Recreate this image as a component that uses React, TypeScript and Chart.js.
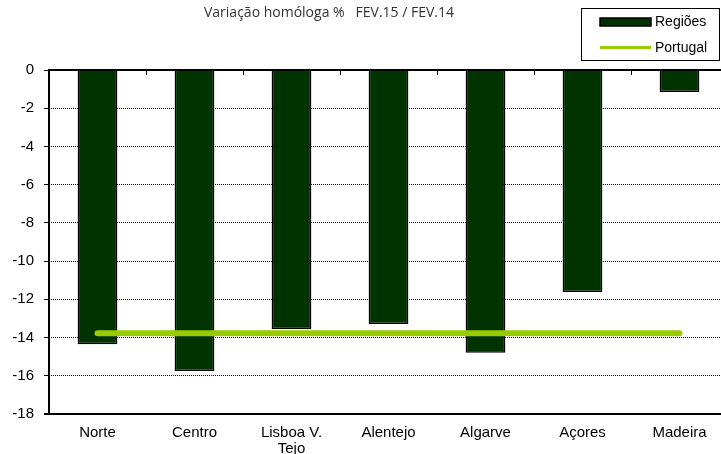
import React, { useEffect, useRef } from "react";
import { Chart, registerables } from "chart.js";

Chart.register(...registerables);

const categories: (string | string[])[] = ["Norte", "Centro", ["Lisboa V.", "Tejo"], "Alentejo", "Algarve", "Açores", "Madeira"];
const regioes = [-14.35, -15.75, -13.57, -13.29, -14.79, -11.62, -1.15];
const portugal = [-13.78, -13.78, -13.78, -13.78, -13.78, -13.78, -13.78];
const yTicks = { min: -18, max: 0, step: 2 };
const titleText = "Variação homóloga %   FEV.15 / FEV.14";
const legendLabels = ["Regiões", "Portugal"];

const BAR = "#003300";
const LIME = "#99cc00";
const FONT = "'Liberation Sans', Arial, sans-serif";

const decor = {
  id: "decor",
  afterDraw(chart: any) {
    const ctx = chart.ctx;
    const a = chart.chartArea;
    ctx.save();
    // title
    ctx.fillStyle = "#333";
    ctx.font = "14px 'Open Sans', sans-serif";
    ctx.textAlign = "center";
    ctx.textBaseline = "middle";
    ctx.fillText(titleText, 329, 13);
    // axes lines
    ctx.strokeStyle = "#000";
    ctx.lineWidth = 2;
    ctx.beginPath();
    ctx.moveTo(a.left, a.top);
    ctx.lineTo(a.right + 5, a.top);
    ctx.moveTo(a.left, a.top - 1);
    ctx.lineTo(a.left, a.bottom + 1);
    ctx.moveTo(a.left - 5, a.bottom);
    ctx.lineTo(a.right + 5, a.bottom);
    ctx.stroke();
    // category ticks on zero axis
    ctx.lineWidth = 1;
    ctx.beginPath();
    const n = categories.length;
    const w = (a.right - a.left) / n;
    for (let i = 1; i < n; i++) {
      const px = Math.round(a.left + i * w) + 0.5;
      ctx.moveTo(px, a.top);
      ctx.lineTo(px, a.top + 5);
    }
    ctx.stroke();
    // legend
    ctx.fillStyle = "#fff";
    ctx.fillRect(581.5, 8.5, 138, 52);
    ctx.strokeStyle = "#000";
    ctx.lineWidth = 1;
    ctx.strokeRect(581.5, 8.5, 138, 52);
    ctx.fillStyle = BAR;
    ctx.fillRect(600, 18, 51, 8);
    ctx.lineWidth = 1.5;
    ctx.strokeRect(600, 18, 51, 8);
    ctx.strokeStyle = LIME;
    ctx.lineWidth = 3;
    ctx.beginPath();
    ctx.moveTo(600, 47.5);
    ctx.lineTo(651, 47.5);
    ctx.stroke();
    ctx.fillStyle = "#000";
    ctx.font = "14px " + FONT;
    ctx.textAlign = "left";
    ctx.fillText(legendLabels[0], 655, 22);
    ctx.fillText(legendLabels[1], 655, 48);
    ctx.restore();
  },
};

export default function App() {
  const ref = useRef<HTMLCanvasElement>(null);
  useEffect(() => {
    if (!ref.current) return;
    const chart = new Chart(ref.current, {
      type: "bar",
      data: {
        labels: categories as any,
        datasets: [
          {
            type: "line",
            label: legendLabels[1],
            data: portugal,
            borderColor: LIME,
            borderWidth: 6,
            borderCapStyle: "round",
            pointRadius: 0,
            order: 0,
          } as any,
          {
            type: "bar",
            label: legendLabels[0],
            data: regioes,
            backgroundColor: BAR,
            borderColor: "#000",
            borderWidth: 1.5,
            categoryPercentage: 1,
            barPercentage: 0.41,
            order: 1,
          },
        ],
      },
      options: {
        responsive: false,
        animation: false,
        layout: { padding: { top: 70, right: 2, left: 0, bottom: 0 } },
        plugins: { legend: { display: false }, title: { display: false }, tooltip: { enabled: false } },
        scales: {
          x: {
            position: "bottom",
            grid: { display: false },
            border: { display: false },
            ticks: {
              color: "#000",
              font: { family: FONT, size: 15, lineHeight: 1.07 },
              padding: 3,
              maxRotation: 0,
              autoSkip: false,
            },
            afterFit: (s: any) => {
              s.height = 40;
            },
          },
          y: {
            min: yTicks.min,
            max: yTicks.max,
            ticks: {
              stepSize: yTicks.step,
              color: "#000",
              font: { family: FONT, size: 15 },
              padding: 10,
            },
            grid: {
              color: "#000",
              lineWidth: 1,
              tickLength: 5,
              tickColor: "#000",
            },
            border: { display: false, dash: [1, 1] },
            afterFit: (s: any) => {
              s.width = 49;
            },
          },
        },
      },
      plugins: [decor],
    });
    return () => chart.destroy();
  }, []);
  return (
    <div style={{ position: "fixed", left: 0, top: 0, width: 721, height: 454, overflow: "hidden", background: "#fff" }}>
      <canvas ref={ref} width={730} height={454} style={{ width: 730, height: 454, display: "block" }} />
    </div>
  );
}
